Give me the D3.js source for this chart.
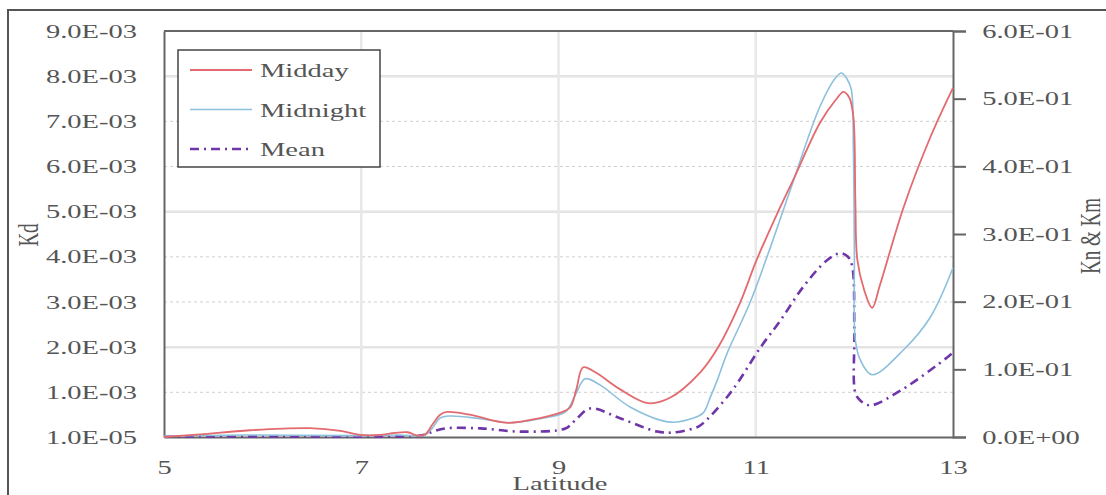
<!DOCTYPE html>
<html>
<head>
<meta charset="utf-8">
<script src="https://cdn.jsdelivr.net/npm/d3@7"></script>
<style>
  body { margin: 0; background: #fff; }
  text { font-family: "Liberation Serif", "Times New Roman", serif; fill: #555; }
</style>
</head>
<body>
<div id="chart"></div>
<script>
const width = 1106;
const height = 495;

// Midday and Midnight are read against the right axis, Mean against the left
const middayLat = [5.00, 5.37, 5.87, 6.48, 6.79, 6.99, 7.19, 7.34, 7.47, 7.57, 7.65, 7.72, 7.80, 7.87, 8.10, 8.48, 8.81, 9.02, 9.12, 9.18, 9.25, 9.37, 9.63, 9.91, 10.13, 10.44, 10.62, 10.84, 11.01, 11.22, 11.38, 11.65, 11.81, 11.89, 11.95, 11.99, 12.01, 12.03, 12.10, 12.18, 12.26, 12.50, 12.77, 13.00];
const middayK = [0.000, 0.004, 0.010, 0.013, 0.009, 0.003, 0.003, 0.006, 0.007, 0.002, 0.004, 0.018, 0.033, 0.037, 0.033, 0.021, 0.028, 0.036, 0.044, 0.070, 0.103, 0.096, 0.070, 0.050, 0.058, 0.096, 0.133, 0.198, 0.262, 0.331, 0.380, 0.464, 0.498, 0.510, 0.501, 0.473, 0.350, 0.262, 0.217, 0.191, 0.225, 0.340, 0.443, 0.516];

const midnightLat = [5.00, 5.87, 6.99, 7.39, 7.57, 7.65, 7.72, 7.80, 7.90, 8.21, 8.51, 8.81, 9.07, 9.17, 9.27, 9.42, 9.73, 10.13, 10.37, 10.47, 10.54, 10.61, 10.71, 10.94, 11.15, 11.35, 11.65, 11.81, 11.87, 11.93, 11.97, 11.99, 12.00, 12.01, 12.06, 12.18, 12.50, 12.77, 13.00];
const midnightK = [0.0015, 0.003, 0.002, 0.003, 0.0015, 0.003, 0.013, 0.028, 0.031, 0.027, 0.021, 0.027, 0.037, 0.062, 0.086, 0.077, 0.044, 0.022, 0.028, 0.036, 0.059, 0.084, 0.124, 0.198, 0.281, 0.365, 0.488, 0.531, 0.538, 0.528, 0.513, 0.424, 0.276, 0.143, 0.114, 0.092, 0.129, 0.177, 0.250];

const meanLat = [5.00, 6.38, 7.39, 7.60, 7.70, 7.85, 8.21, 8.61, 9.07, 9.17, 9.32, 9.63, 10.00, 10.16, 10.37, 10.44, 10.74, 11.05, 11.25, 11.48, 11.72, 11.86, 11.94, 11.98, 12.00, 12.01, 12.06, 12.16, 12.47, 12.94, 13.00];
const meanKd = [0.00002, 0.00002, 0.00002, 0.00004, 0.00011, 0.00020, 0.00020, 0.00013, 0.00020, 0.00038, 0.00064, 0.00042, 0.00013, 0.00011, 0.00020, 0.00027, 0.00098, 0.00200, 0.00259, 0.00333, 0.00392, 0.00408, 0.00399, 0.00377, 0.00237, 0.00098, 0.00082, 0.00071, 0.00104, 0.00177, 0.00188];

const xTicks = [5, 7, 9, 11, 13];
const leftTicks = [1e-5, 1e-3, 2e-3, 3e-3, 4e-3, 5e-3, 6e-3, 7e-3, 8e-3, 9e-3];
const leftLabels = ["1.0E-05", "1.0E-03", "2.0E-03", "3.0E-03", "4.0E-03", "5.0E-03", "6.0E-03", "7.0E-03", "8.0E-03", "9.0E-03"];
const rightTicks = [0, 0.1, 0.2, 0.3, 0.4, 0.5, 0.6];
const rightLabels = ["0.0E+00", "1.0E-01", "2.0E-01", "3.0E-01", "4.0E-01", "5.0E-01", "6.0E-01"];

const plot = { left: 164, right: 953, top: 31, bottom: 437 };
const stretch = "scale(1.5,1)"; // the source picture is widened, glyphs included

const x = d3.scaleLinear().domain([5, 13]).range([plot.left, plot.right]);
const yLeft = d3.scaleLinear().domain([1e-5, 9e-3]).range([plot.bottom, plot.top]);
const yRight = d3.scaleLinear().domain([0, 0.6]).range([plot.bottom, plot.top]);

const svg = d3.select("#chart")
  .append("svg")
  .attr("width", width)
  .attr("height", height);

svg.append("rect")
  .attr("width", width).attr("height", height)
  .attr("fill", "#fff");

// outer frame, runs off the right and bottom edges
svg.append("rect")
  .attr("x", 8).attr("y", 10)
  .attr("width", 1120).attr("height", 500)
  .attr("fill", "none")
  .attr("stroke", "#555")
  .attr("stroke-width", 2);

// Grid
const grid = svg.append("g");
leftTicks.slice(1, -1).forEach((t, i) => {
  const solid = (i + 1) % 3 === 2;
  grid.append("line")
    .attr("x1", plot.left).attr("x2", plot.right)
    .attr("y1", yLeft(t)).attr("y2", yLeft(t))
    .attr("stroke", solid ? "#e4e4e4" : "#cfcfcf")
    .attr("stroke-width", solid ? 2.5 : 1)
    .attr("stroke-dasharray", solid ? null : "3,3");
});
xTicks.slice(1, -1).forEach(t => {
  grid.append("line")
    .attr("x1", x(t)).attr("x2", x(t))
    .attr("y1", plot.top).attr("y2", plot.bottom)
    .attr("stroke", "#e8e8e8")
    .attr("stroke-width", 2.5);
});

// Axes
const leftAxis = svg.append("g")
  .attr("transform", `translate(${plot.left},0)`)
  .call(d3.axisLeft(yLeft).tickValues(leftTicks).tickSize(0).tickFormat((d, i) => leftLabels[i]));

const rightAxis = svg.append("g")
  .attr("transform", `translate(${plot.right},0)`)
  .call(d3.axisRight(yRight).tickValues(rightTicks).tickSize(13).tickFormat((d, i) => rightLabels[i]));

const bottomAxis = svg.append("g")
  .attr("transform", `translate(0,${plot.bottom})`)
  .call(d3.axisBottom(x).tickValues(xTicks).tickSize(0).tickFormat(d3.format("d")));

[leftAxis, rightAxis, bottomAxis].forEach(ax => {
  ax.select(".domain").attr("stroke", "#666").attr("stroke-width", 2);
  ax.selectAll(".tick line").attr("stroke", "#666").attr("stroke-width", 2);
  ax.selectAll(".tick text")
    .attr("font-family", "Liberation Serif, serif")
    .attr("font-size", 19)
    .attr("fill", "#555")
    .attr("transform", stretch);
});
leftAxis.selectAll(".tick text").attr("x", -18);
rightAxis.selectAll(".tick text").attr("x", 19.5);
bottomAxis.selectAll(".tick text").attr("y", 24);

// top border of the plot
svg.append("line")
  .attr("x1", plot.left).attr("x2", plot.right)
  .attr("y1", plot.top).attr("y2", plot.top)
  .attr("stroke", "#666").attr("stroke-width", 2);

// Axis titles
function label(tx, ty, str, rotate) {
  svg.append("text")
    .attr("transform", `translate(${tx},${ty}) ${stretch}` + (rotate ? " rotate(-90)" : ""))
    .attr("text-anchor", "middle")
    .style("font-size", "19px")
    .text(str);
}
label(560, 490, "Latitude", false);
label(38, 235, "Kd", true);
label(1100, 236, "Kn & Km", true);

// Lines
const series = [
  { name: "Midday", lat: middayLat, val: middayK, y: yRight, color: "#e36a6e", w: 1.8, dash: null },
  { name: "Midnight", lat: midnightLat, val: midnightK, y: yRight, color: "#8cc0dd", w: 1.6, dash: null },
  { name: "Mean", lat: meanLat, val: meanKd, y: yLeft, color: "#7035a8", w: 2.6, dash: "9,5,2,5" }
];

series.slice().reverse().forEach(s => {
  const line = d3.line()
    .x((d, i) => x(s.lat[i]))
    .y(d => s.y(d))
    .curve(d3.curveCatmullRom.alpha(0.5));
  svg.append("path")
    .datum(s.val)
    .attr("fill", "none")
    .attr("stroke", s.color)
    .attr("stroke-width", s.w)
    .attr("stroke-dasharray", s.dash)
    .attr("d", line);
});

// Legend
const legend = svg.append("g");
legend.append("rect")
  .attr("x", 178).attr("y", 50)
  .attr("width", 202).attr("height", 117)
  .attr("fill", "#fff")
  .attr("stroke", "#444")
  .attr("stroke-width", 1.5);

series.forEach((s, i) => {
  const base = 77 + i * 39.5;
  legend.append("line")
    .attr("x1", 190).attr("x2", 252)
    .attr("y1", base - 7).attr("y2", base - 7)
    .attr("stroke", s.color)
    .attr("stroke-width", s.w)
    .attr("stroke-dasharray", s.dash);
  legend.append("text")
    .attr("transform", `translate(260,${base}) ${stretch}`)
    .style("font-size", "19px")
    .text(s.name);
});
</script>
</body>
</html>
